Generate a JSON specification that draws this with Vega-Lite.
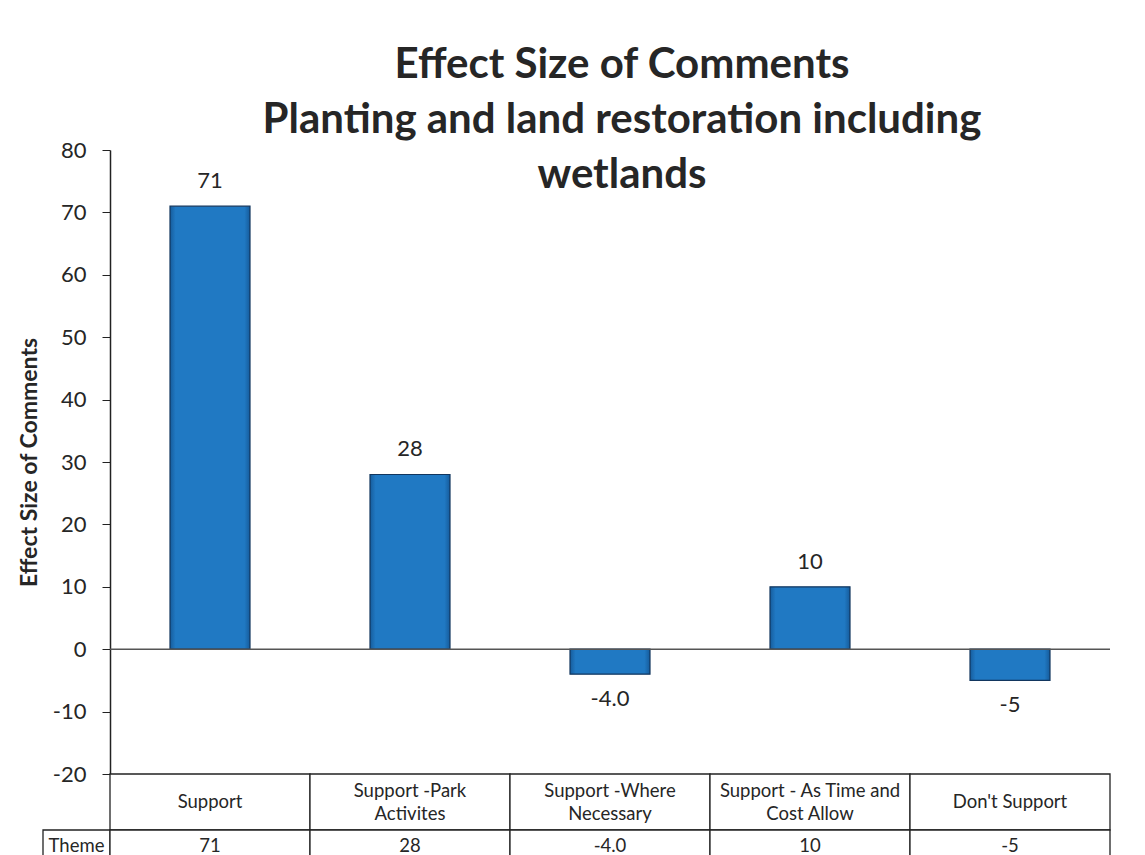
{
  "$schema": "https://vega.github.io/schema/vega-lite/v6.json",
  "background": "white",
  "padding": {"left": 18, "top": 44, "right": 0, "bottom": 0},
  "autosize": {"type": "pad"},
  "bounds": "flush",
  "columns": 2,
  "spacing": 0,
  "config": {
    "view": {"stroke": null},
    "font": "Lato"
  },
  "datasets": {
    "effects": [
      {"theme": "Support", "header": "Support", "value": 71, "label": "71"},
      {"theme": "Support -Park Activites", "header": "Support -Park\nActivites", "value": 28, "label": "28"},
      {"theme": "Support -Where Necessary", "header": "Support -Where\nNecessary", "value": -4.0, "label": "-4.0"},
      {"theme": "Support - As Time and Cost Allow", "header": "Support - As Time and\nCost Allow", "value": 10, "label": "10"},
      {"theme": "Don't Support", "header": "Don't Support", "value": -5, "label": "-5"}
    ],
    "rowname": [{"row": "Theme"}],
    "empty": []
  },
  "concat": [
    {"width": 67, "height": 624, "data": {"name": "empty"}, "mark": "point"},
    {
      "width": 1000,
      "height": 624,
      "title": {
        "text": ["Effect Size of Comments", "Planting and land restoration including", "wetlands"],
        "fontSize": 42,
        "font": "Lato",
        "fontWeight": "bold",
        "color": "#262626",
        "lineHeight": 55,
        "anchor": "middle",
        "frame": "group",
        "offset": -91,
        "dx": 12,
        "baseline": "alphabetic"
      },
      "layer": [
        {
          "data": {"name": "effects"},
          "mark": {
            "type": "bar",
            "width": {"band": 0.4},
            "fill": {
              "gradient": "linear",
              "x1": 0, "y1": 0, "x2": 1, "y2": 0,
              "stops": [
                {"offset": 0, "color": "#165c9c"},
                {"offset": 0.07, "color": "#2079c3"},
                {"offset": 0.93, "color": "#2079c3"},
                {"offset": 1, "color": "#165c9c"}
              ]
            },
            "stroke": "#12365e",
            "strokeWidth": 1.2
          },
          "encoding": {
            "x": {"field": "theme", "type": "nominal", "sort": null, "axis": null, "scale": {"paddingInner": 0, "paddingOuter": 0}},
            "y": {
              "field": "value",
              "type": "quantitative",
              "scale": {"domain": [-20, 80], "nice": false, "zero": false},
              "axis": {
                "values": [-20, -10, 0, 10, 20, 30, 40, 50, 60, 70, 80],
                "labelExpr": "replace(datum.label, '\u2212', '-')",
                "title": "Effect Size of Comments",
                "titleFontSize": 23,
                "titleFont": "Lato",
                "titleFontWeight": "bold",
                "titleColor": "#262626",
                "titlePadding": 11,
                "labelFontSize": 22,
                "labelFont": "Lato",
                "labelColor": "#262626",
                "labelPadding": 16,
                "labelFlush": false,
                "labelOverlap": false,
                "tickSize": 8,
                "tickColor": "#222222",
                "domainColor": "#222222",
                "domainWidth": 1.5,
                "grid": false
              }
            }
          }
        },
        {
          "data": {"values": [{}]},
          "mark": {"type": "rule", "color": "#555555", "strokeWidth": 1.5},
          "encoding": {"y": {"datum": 0}}
        },
        {
          "data": {"name": "effects"},
          "transform": [{"filter": "datum.value >= 0"}],
          "mark": {"type": "text", "fontSize": 22, "baseline": "alphabetic", "dy": -18, "color": "#262626"},
          "encoding": {
            "x": {"field": "theme", "type": "nominal", "sort": null},
            "y": {"field": "value", "type": "quantitative"},
            "text": {"field": "label"}
          }
        },
        {
          "data": {"name": "effects"},
          "transform": [{"filter": "datum.value < 0"}],
          "mark": {"type": "text", "fontSize": 22, "baseline": "top", "dy": 15, "color": "#262626"},
          "encoding": {
            "x": {"field": "theme", "type": "nominal", "sort": null},
            "y": {"field": "value", "type": "quantitative"},
            "text": {"field": "label"}
          }
        }
      ]
    },
    {"width": 67, "height": 56, "data": {"name": "empty"}, "mark": "point"},
    {
      "width": 1000,
      "height": 56,
      "data": {"name": "effects"},
      "encoding": {
        "x": {"field": "theme", "type": "nominal", "sort": null, "axis": null, "scale": {"paddingInner": 0, "paddingOuter": 0}}
      },
      "layer": [
        {"mark": {"type": "rect", "fill": "white", "stroke": "#222222", "strokeWidth": 1.3}},
        {
          "transform": [{"filter": "indexof(datum.header, '\\n') < 0"}],
          "mark": {"type": "text", "fontSize": 18.5, "color": "#262626"},
          "encoding": {"text": {"field": "header"}}
        },
        {
          "transform": [{"filter": "indexof(datum.header, '\\n') >= 0"}],
          "mark": {"type": "text", "fontSize": 18.5, "lineBreak": "\n", "lineHeight": 23, "dy": -11.5, "color": "#262626"},
          "encoding": {"text": {"field": "header"}}
        }
      ]
    },
    {
      "width": 67,
      "height": 32,
      "data": {"name": "rowname"},
      "encoding": {
        "x": {"field": "row", "type": "nominal", "axis": null, "scale": {"paddingInner": 0, "paddingOuter": 0}}
      },
      "layer": [
        {"mark": {"type": "rect", "fill": "white", "stroke": "#222222", "strokeWidth": 1.3}},
        {"mark": {"type": "text", "fontSize": 18.5, "color": "#262626"}, "encoding": {"text": {"field": "row"}}}
      ]
    },
    {
      "width": 1000,
      "height": 32,
      "data": {"name": "effects"},
      "encoding": {
        "x": {"field": "theme", "type": "nominal", "sort": null, "axis": null, "scale": {"paddingInner": 0, "paddingOuter": 0}}
      },
      "layer": [
        {"mark": {"type": "rect", "fill": "white", "stroke": "#222222", "strokeWidth": 1.3}},
        {"mark": {"type": "text", "fontSize": 18.5, "color": "#262626"}, "encoding": {"text": {"field": "label"}}}
      ]
    }
  ]
}
